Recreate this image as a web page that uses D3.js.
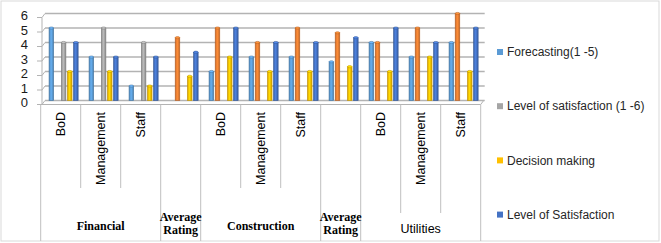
<!DOCTYPE html>
<html>
<head>
<meta charset="utf-8">
<script src="https://cdn.jsdelivr.net/npm/d3@7"></script>
<style>
  body { margin: 0; background: #fff; }
  svg { display: block; }
</style>
</head>
<body>
<div id="chart"></div>
<script>
// one value per category slot, null where the bar is missing
var categories = ['BoD', 'Management', 'Staff', '', 'BoD', 'Management', 'Staff', '', 'BoD', 'Management', 'Staff']
var groupNames = ['Financial', 'Average Rating', 'Construction', 'Average Rating', 'Utilities']
var groupSpans = [3, 1, 3, 1, 3]

var forecasting   = [5, 3, 1, null, 2, 3, 3, 2.67, 4, 3, 4]
var unnamed       = [null, null, null, 4.33, 5, 4, 5, 4.67, 4, 5, 6]
var satisfaction6 = [4, 5, 4, null, null, null, null, null, null, null, null]
var decision      = [2, 2, 1, 1.67, 3, 2, 2, 2.33, 2, 3, 2]
var satisfaction  = [4, 3, 3, 3.33, 5, 4, 4, 4.33, 5, 4, 5]

var seriesNames = ['Forecasting(1 -5)', '', 'Level of satisfaction (1 -6)', 'Decision making', 'Level of Satisfaction']
var seriesColors = ['#5b9bd5', '#ed7d31', '#a5a5a5', '#ffc000', '#4472c4']
var yTicks = [0, 1, 2, 3, 4, 5, 6]

var series = [forecasting, unnamed, satisfaction6, decision, satisfaction].map((vals, s) => ({
  name: seriesNames[s], color: seriesColors[s], s: s,
  vals: vals.map((v, i) => ({v: v, i: i, s: s}))
}))

var width = 661, height = 243
var dx = 3, dy = 4   // depth of the 3d box

var svg = d3.select('#chart').append('svg')
  .attr('width', width).attr('height', height)
  .style('font-family', '"Liberation Sans", Arial, sans-serif')

var x = d3.scaleBand().domain(d3.range(categories.length)).range([40.7, 480.7])
var xs = d3.scaleBand().domain(d3.range(series.length)).range([7.6, 38.2])
  .paddingInner(0.25).paddingOuter(0.125)
var y = d3.scaleLinear().domain([0, 6]).range([100.5, 13.5])

// outer frame
svg.append('rect')
  .attr('x', 1).attr('y', 1).attr('width', width - 3).attr('height', height - 3)
  .attr('fill', 'none').attr('stroke', '#d9d9d9')

var grid = '#b3b3b3'
var x0 = x.range()[0] + 1.3, x1 = x.range()[1]

// back wall gridlines + side wall slants
svg.selectAll('line.grid').data(yTicks).enter().append('line')
  .attr('x1', x0 + dx).attr('x2', x1 + dx + 1)
  .attr('y1', d => y(d)).attr('y2', d => y(d))
  .attr('stroke', grid).attr('stroke-width', 1.3)

svg.selectAll('line.slant').data(yTicks).enter().append('line')
  .attr('x1', x0).attr('x2', x0 + dx)
  .attr('y1', d => y(d) + dy).attr('y2', d => y(d))
  .attr('stroke', grid).attr('stroke-width', 1)

svg.selectAll('line.tick').data(yTicks).enter().append('line')
  .attr('x1', x0 - 5).attr('x2', x0)
  .attr('y1', d => y(d) + dy).attr('y2', d => y(d) + dy)
  .attr('stroke', grid)

svg.append('line')
  .attr('x1', x0).attr('x2', x0)
  .attr('y1', y(6) + dy).attr('y2', y(0) + dy)
  .attr('stroke', grid)

svg.selectAll('text.ytick').data(yTicks).enter().append('text')
  .attr('x', 28).attr('y', d => y(d) + 2)
  .attr('dy', '.35em').attr('text-anchor', 'end')
  .attr('font-size', 13).attr('fill', '#1a1a1a')
  .text(d => d)

// floor edges
svg.append('line')
  .attr('x1', x0).attr('x2', x1)
  .attr('y1', y(0) + dy).attr('y2', y(0) + dy)
  .attr('stroke', grid)
svg.append('line')
  .attr('x1', x1).attr('x2', x1 + dx)
  .attr('y1', y(0) + dy).attr('y2', y(0))
  .attr('stroke', grid)

// cylinder-ish shading
var defs = svg.append('defs')
series.forEach(d => {
  var g = defs.append('linearGradient').attr('id', 'grad' + d.s)
  var c = d3.color(d.color)
  g.append('stop').attr('offset', '0%').attr('stop-color', c.darker(0.4))
  g.append('stop').attr('offset', '45%').attr('stop-color', c.brighter(0.35))
  g.append('stop').attr('offset', '100%').attr('stop-color', c.darker(0.5))
})

var bw = xs.bandwidth()
var bars = svg.selectAll('g.series').data(series).enter().append('g')
  .selectAll('g.bar').data(d => d.vals.filter(e => e.v != null)).enter().append('g')

bars.append('rect')
  .attr('x', d => x(d.i) + xs(d.s))
  .attr('y', d => y(d.v))
  .attr('width', bw)
  .attr('height', d => y(0) - y(d.v))
  .attr('fill', d => 'url(#grad' + d.s + ')')
  .attr('stroke', d => d3.color(seriesColors[d.s]).darker(0.8))
  .attr('stroke-width', 0.6)

bars.append('ellipse')
  .attr('cx', d => x(d.i) + xs(d.s) + bw/2)
  .attr('cy', d => y(d.v))
  .attr('rx', bw/2)
  .attr('ry', 1.1)
  .attr('fill', d => d3.color(seriesColors[d.s]).brighter(0.5))
  .attr('stroke', d => d3.color(seriesColors[d.s]).darker(0.8))
  .attr('stroke-width', 0.5)

// category axis: dividers
var groupStart = d3.cumsum([0].concat(groupSpans))
var axisTop = y(0) + dy
var dividers = d3.range(categories.length + 1).map(b => {
  var g = d3.bisectRight(groupStart, b) - 1
  var isGroupEdge = groupStart.indexOf(b) > -1
  var bottom = isGroupEdge ? 241 : (g == groupNames.length - 1 ? 213 : 188)
  return {b: b, bottom: bottom}
})

svg.selectAll('line.div').data(dividers).enter().append('line')
  .attr('x1', d => x.range()[0] + d.b*x.step())
  .attr('x2', d => x.range()[0] + d.b*x.step())
  .attr('y1', axisTop).attr('y2', d => d.bottom)
  .attr('stroke', '#bfbfbf')

svg.selectAll('text.cat').data(categories).enter().append('text')
  .attr('transform', (d, i) => 'translate(' + (x(i) + x.bandwidth()/2) + ',112) rotate(-90)')
  .attr('dy', '.35em').attr('text-anchor', 'end')
  .attr('font-size', 12.5).attr('fill', '#000')
  .text(d => d)

// group labels
groupNames.forEach((name, g) => {
  var cx = x.range()[0] + (groupStart[g] + groupSpans[g]/2)*x.step()
  var isLast = g == groupNames.length - 1
  var t = svg.append('text')
    .attr('text-anchor', 'middle')
    .attr('font-size', isLast ? 12.5 : 12)
    .attr('fill', '#000')
    .style('font-family', isLast ? '"Liberation Sans", Arial, sans-serif' : '"Liberation Serif", "Times New Roman", serif')
    .style('font-weight', isLast ? 'normal' : 'bold')
  var words = name.split(' ')
  if (words.length > 1){
    words.forEach((w, k) => {
      t.append('tspan').attr('x', cx).attr('y', 221 + k*13).text(w)
    })
  } else {
    t.attr('x', cx).attr('y', isLast ? 233 : 230).text(name)
  }
})

// legend (unnamed series has no entry)
var legendItems = series.filter(d => d.name)
var legend = svg.selectAll('g.legend').data(legendItems).enter().append('g')
  .attr('transform', (d, i) => 'translate(497,' + (52 + i*54.2) + ')')

legend.append('rect')
  .attr('x', 0).attr('y', -3).attr('width', 6).attr('height', 6)
  .attr('fill', d => d.color)

legend.append('text')
  .attr('x', 10).attr('dy', '.35em')
  .attr('font-size', 12).attr('fill', '#262626')
  .text(d => d.name)
</script>
</body>
</html>
